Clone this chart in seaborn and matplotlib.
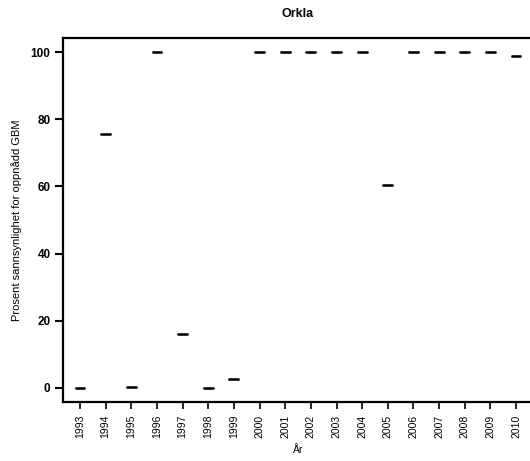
import numpy as np
import pandas as pd
import seaborn as sns
import matplotlib
matplotlib.use("Agg")
import matplotlib.pyplot as plt

years = [str(y) for y in range(1993, 2011)]
prob = [0.0, 75.7, 0.3, 100.0, 16.1, 0.0, 2.7, 100.0, 100.0, 100.0,
        100.0, 100.0, 60.3, 100.0, 100.0, 100.0, 100.0, 98.8]

df = pd.DataFrame({"year": years, "prob": prob})

sns.set_style("ticks")
plt.rcParams["font.family"] = ["Liberation Sans", "DejaVu Sans"]
for k in ["text.color", "axes.labelcolor", "xtick.color", "ytick.color"]:
    plt.rcParams[k] = "black"

fig = plt.figure(figsize=(5.3, 4.61), dpi=100)
ax = fig.add_axes([0.1189, 0.128, 0.8868, 0.7896])

sns.boxplot(data=df, x="year", y="prob", ax=ax, width=0.42, color="white",
            linecolor="black", linewidth=0.8, fliersize=0,
            medianprops={"linewidth": 1.8, "color": "black"})

ax.set_xlim(-0.66, 17.66)
ax.set_ylim(-4.2, 104.2)
ax.set_yticks([0, 20, 40, 60, 80, 100])

for s in ["left", "top", "bottom"]:
    ax.spines[s].set_visible(True)
    ax.spines[s].set_linewidth(1.6)
    ax.spines[s].set_color("black")
ax.spines["right"].set_visible(False)

ax.tick_params(axis="y", length=6, width=1.5, pad=3, labelsize=8.5)
ax.tick_params(axis="x", length=5, width=1.2, pad=4, labelsize=7.5, rotation=90)
for lab in ax.get_yticklabels():
    lab.set_fontweight("bold")

ax.set_xlabel("År", fontsize=7.5, labelpad=5)
ax.set_ylabel("Prosent sannsynlighet for oppnådd GBM", fontsize=8, labelpad=6)
ax.set_title("Orkla", fontsize=9, fontweight="bold", pad=15)

fig.savefig("out.png", dpi=100)
